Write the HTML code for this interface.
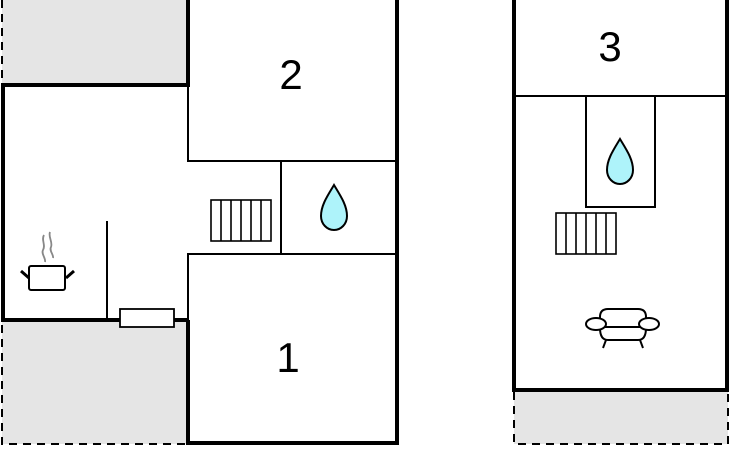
<!DOCTYPE html>
<html><head><meta charset="utf-8"><style>
html,body{margin:0;padding:0;background:#fff;}
svg{display:block}
text{font-family:"Liberation Sans",sans-serif;}
</style></head><body>
<svg width="730" height="450" viewBox="0 0 730 450" xmlns="http://www.w3.org/2000/svg">
<defs>
<g id="drop"><path d="M0,-22 C6,-12 13,-2 13,9 C13,17 7,23 0,23 C-7,23 -13,17 -13,9 C-13,-2 -6,-12 0,-22 Z" fill="#aef3fa" stroke="#000" stroke-width="2"/></g>
<g id="stairs" fill="#fff" stroke="#000" stroke-width="1.6">
<rect x="0" y="0" width="60" height="41"/>
<line x1="10" y1="0" x2="10" y2="41"/><line x1="20" y1="0" x2="20" y2="41"/><line x1="30" y1="0" x2="30" y2="41"/><line x1="40" y1="0" x2="40" y2="41"/><line x1="50" y1="0" x2="50" y2="41"/>
</g>
</defs>
<!-- gray areas -->
<rect x="2" y="0" width="186" height="84" fill="#e5e5e5"/>
<rect x="2" y="322" width="186" height="122" fill="#e5e5e5"/>
<rect x="514" y="392" width="214" height="52" fill="#e5e5e5"/>
<g stroke="#000" stroke-width="2" stroke-dasharray="8,6" fill="none">
<line x1="2" y1="0" x2="2" y2="80"/>
<polyline points="2,325 2,444 188,444"/>
<polyline points="514,392 514,444 728,444 728,392"/>
</g>
<!-- thick walls left -->
<g stroke="#000" stroke-width="4" fill="none">
<polyline points="188,0 188,85 3,85 3,320 188,320"/>
<polyline points="188,320 188,443 397,443 397,0"/>
</g>
<!-- thin walls left -->
<g stroke="#000" stroke-width="2" fill="none">
<polyline points="188,85 188,161 397,161"/>
<line x1="281" y1="161" x2="281" y2="254"/>
<polyline points="188,320 188,254 397,254"/>
<line x1="107" y1="221" x2="107" y2="320"/>
</g>
<rect x="120" y="309" width="54" height="18" fill="#fff" stroke="#000" stroke-width="1.8"/>
<use href="#stairs" x="211" y="200"/>
<use href="#drop" x="334" y="207"/>
<!-- pot -->
<g stroke="#000" fill="#fff">
<line x1="21" y1="271" x2="29" y2="278" stroke-width="3"/>
<line x1="66" y1="278" x2="74" y2="271" stroke-width="3"/>
<rect x="29" y="266" width="36" height="24" rx="2" stroke-width="2"/>
</g>
<g stroke="#888" stroke-width="1.8" fill="none">
<path d="M44,235 C41,240 46,245 43,250 C41,254 46,258 45,262"/>
<path d="M50,232 C48,237 53,242 51,247 C49,251 54,255 53,258"/>
</g>
<text x="291" y="89" font-size="42" text-anchor="middle">2</text>
<text x="288" y="372" font-size="42" text-anchor="middle">1</text>
<!-- right building -->
<g stroke="#000" stroke-width="4" fill="none">
<polyline points="514,0 514,390 727,390 727,0"/>
</g>
<g stroke="#000" stroke-width="2" fill="none">
<line x1="514" y1="96" x2="727" y2="96"/>
<polyline points="586,96 586,207 655,207 655,96"/>
</g>
<text x="610" y="61" font-size="42" text-anchor="middle">3</text>
<use href="#drop" x="620" y="161"/>
<use href="#stairs" x="556" y="213"/>
<!-- armchair -->
<g stroke="#000" stroke-width="2" fill="#fff">
<line x1="606" y1="340" x2="603" y2="348"/>
<line x1="640" y1="340" x2="643" y2="348"/>
<path d="M600,328 L600,317 Q600,309 608,309 L638,309 Q646,309 646,317 L646,328 Q646,340 638,340 L608,340 Q600,340 600,328 Z"/>
<line x1="600" y1="327" x2="646" y2="327"/>
<ellipse cx="596" cy="324" rx="10" ry="6"/>
<ellipse cx="649" cy="324" rx="10" ry="6"/>
</g>
</svg>
</body></html>
